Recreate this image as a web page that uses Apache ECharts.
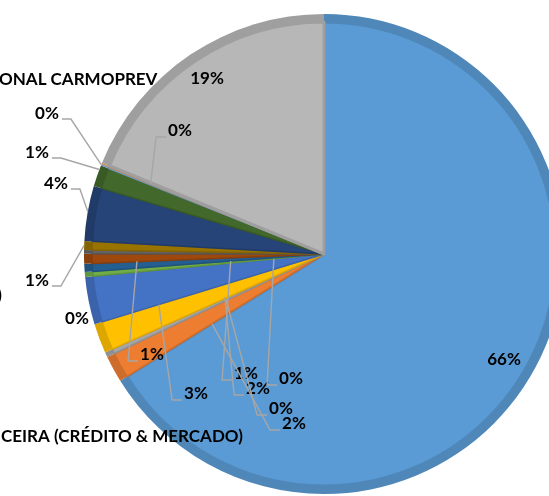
<!DOCTYPE html>
<html>
<head>
<meta charset="utf-8">
<script src="https://cdn.jsdelivr.net/npm/echarts@6/dist/echarts.min.js"></script>
<style>
  html, body { margin: 0; padding: 0; background: #fff; }
  #main { width: 549px; height: 496px; }
</style>
</head>
<body>
<div id="main"></div>
<script>
// slice values in percent (clockwise from 12 o'clock)
const categories = ['Cat 1', 'Cat 2', 'Cat 3', 'Cat 4', 'Cat 5', 'Cat 6', 'Cat 7', 'Cat 8',
  'Cat 9', 'Cat 10', 'Cat 11', 'Cat 12', 'Cat 13', 'Cat 14', 'Cat 15'];
const values = [66.2, 1.8, 0.33, 2.0, 3.2, 0.33, 0.55, 0.67, 0.25, 0.6, 3.7, 1.45, 0.1, 0.1, 18.8];
// cut-off category names visible at the picture's left edge
const nameFragments = ['ONAL CARMOPREV', 'CEIRA (CRÉDITO & MERCADO)', ')'];

const colors = ['#5B9BD5', '#ED7D31', '#A5A5A5', '#FFC000', '#4472C4', '#70AD47', '#255E91', '#9E480E',
  '#636363', '#997300', '#264478', '#43682B', '#7CAFDD', '#F1975A', '#B7B7B7'];

const CX = 324, CY = 254, R = 240;
const FONT = 'Lato';
const FSIZE = 17;

// where each percent label sits, and where its leader line grabs the slice
const labelPos = [[504, 360], [294, 424], [281, 409], [258, 389], [196, 394], [291, 379], [246, 374],
  [152, 355], [77, 319], [37, 281], [56, 184], [37, 153], [47, 114], [180, 131], [207, 79]];
// [fraction along slice angle, fraction of radius, side of label the line attaches]
const leader = [null, [0, 0.55, 'L'], [0.5, 0.45, 'L'], [0.1, 0.45, 'L'], [0, 0.72, 'L'], [0, 0.21, 'L'],
  [0, 0.39, 'L'], [0.05, 0.78, 'L'], null, [0.5, 1, 'R'], [0.53, 1, 'R'], [0.8, 1, 'R'],
  [0.5, 1, 'R'], [0.5, 0.78, 'L'], null];
const fragPos = [[-1, 80, 'left'], [1, 437, 'left'], [2, 296, 'right']];

function darker(hex, k) {
  const n = parseInt(hex.slice(1), 16);
  const r = Math.round(((n >> 16) & 255) * k), g = Math.round(((n >> 8) & 255) * k), b = Math.round((n & 255) * k);
  return 'rgb(' + r + ',' + g + ',' + b + ')';
}

const total = values.reduce((a, b) => a + b, 0);
const pctText = values.map(v => Math.round(v / total * 100) + '%');
const startAng = [];
let acc = 0;
values.forEach(v => { startAng.push(acc); acc += v / total * 360; });

function anchorOf(i) {
  const a0 = startAng[i], a1 = a0 + values[i] / total * 360;
  const ang = (a0 + (a1 - a0) * leader[i][0]) * Math.PI / 180;
  const r = R * leader[i][1];
  return [CX + r * Math.sin(ang), CY - r * Math.cos(ang)];
}

const ctx = document.createElement('canvas').getContext('2d');
ctx.font = 'bold ' + FSIZE + 'px ' + FONT;

const leaderLines = [];
values.forEach((v, i) => {
  if (!leader[i]) return;
  const [x, y] = labelPos[i];
  const w = ctx.measureText(pctText[i]).width;
  const a = anchorOf(i);
  let pts;
  if (leader[i][2] === 'L') {
    const ex = x - w / 2;
    pts = [a, [ex - 12, y + 6], [ex - 2, y + 6]];
  } else {
    const ex = x + w / 2;
    pts = [a, [ex + 12, y + 5], [ex + 3, y + 5]];
  }
  leaderLines.push({
    type: 'polyline', z: 50, silent: true,
    shape: { points: pts },
    style: { stroke: '#A6A6A6', lineWidth: 1.4, fill: null }
  });
});

const chart = echarts.init(document.getElementById('main'));
chart.setOption({
  backgroundColor: '#fff',
  animation: false,
  series: [
    {
      type: 'pie',
      silent: true,
      center: [CX, CY],
      radius: R,
      label: { show: false },
      labelLine: { show: false },
      data: values.map((v, i) => ({
        name: categories[i], value: v,
        itemStyle: { color: darker(colors[i], 0.87) }
      }))
    },
    {
      type: 'pie',
      center: [CX, CY],
      radius: R - 8,
      avoidLabelOverlap: false,
      label: {
        show: true,
        position: 'outside',
        formatter: p => pctText[p.dataIndex],
        fontFamily: FONT,
        fontWeight: 'bold',
        fontSize: FSIZE,
        color: '#000'
      },
      labelLine: { show: false },
      data: values.map((v, i) => ({
        name: categories[i], value: v,
        itemStyle: {
          color: colors[i],
          borderColor: darker(colors[i], 0.87),
          borderWidth: v > 10 ? 3 : 1.5
        }
      })),
      labelLayout: function (p) {
        const [x, y] = labelPos[p.dataIndex];
        return { x: x, y: y, align: 'center', verticalAlign: 'middle' };
      }
    }
  ],
  graphic: leaderLines.concat(nameFragments.map((t, i) => ({
    type: 'text',
    z: 60,
    x: fragPos[i][0],
    y: fragPos[i][1],
    style: {
      text: t,
      fill: '#000',
      font: 'bold ' + FSIZE + 'px ' + FONT,
      align: fragPos[i][2],
      verticalAlign: 'middle'
    }
  })))
});
</script>
</body>
</html>
